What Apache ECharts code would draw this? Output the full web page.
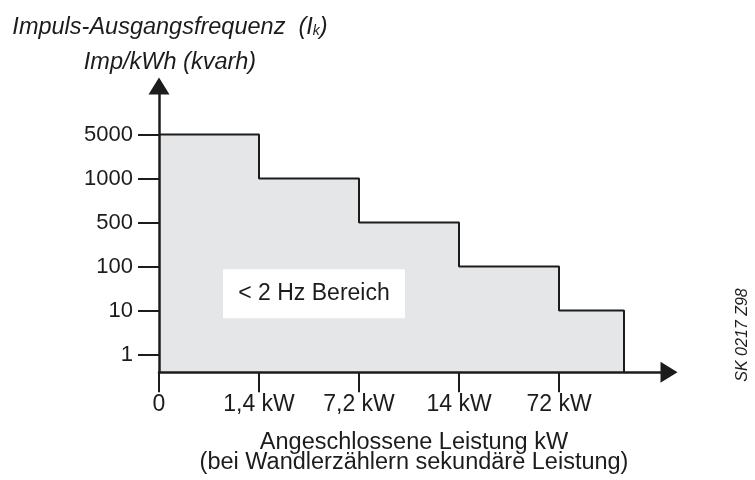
<!DOCTYPE html>
<html><head><meta charset="utf-8">
<script src="https://cdn.jsdelivr.net/npm/echarts@6/dist/echarts.min.js"></script>
<style>html,body{margin:0;padding:0;background:#fff}#chart{width:755px;height:480px}</style>
</head><body><div id="chart"></div>
<script>
// y axis: ordinal levels of pulse output frequency (Imp/kWh)
const yTickLabels = ['1', '10', '100', '500', '1000', '5000'];
// x axis: connected power ranges
const xTickLabels = ['0', '1,4 kW', '7,2 kW', '14 kW', '72 kW'];
// level of each power range (Imp/kWh)
const stepLevels = [5000, 1000, 500, 100, 10];
// start / end of each power range in axis tick units
const rangeStarts = [0, 1, 2, 3, 4];
const rangeEnds = [1, 2, 3, 4, 4.65];
const areaLabel = '< 2 Hz Bereich';
const yTitle1 = 'Impuls-Ausgangsfrequenz  (I{s|k})';
const yTitle2 = 'Imp/kWh (kvarh)';
const xTitle = 'Angeschlossene Leistung kW\n(bei Wandlerzählern sekundäre Leistung)';
const sideNote = 'SK 0217 Z98';

const Y_MIN = 0.6, Y_MAX = 7.1, X_MAX = 5.1;
const ink = '#1c1c1c';
const FONT = '"Liberation Sans", Arial, Helvetica, sans-serif';

const levelIndex = v => yTickLabels.indexOf(String(v)) + 1;
const data = [];
stepLevels.forEach((lv, i) => data.push([rangeStarts[i], levelIndex(lv)]));
data.push([rangeEnds[rangeEnds.length - 1], levelIndex(stepLevels[stepLevels.length - 1])]);
data.push([rangeEnds[rangeEnds.length - 1], Y_MIN]);

const chart = echarts.init(document.getElementById('chart'), null, {renderer: 'canvas'});
chart.setOption({
  animation: false,
  backgroundColor: '#fff',
  grid: {left: 159, right: 86, top: 86, bottom: 105, containLabel: false},
  xAxis: {
    type: 'value', min: 0, max: X_MAX, interval: 1, z: 5,
    splitLine: {show: false},
    axisLine: {onZero: false, lineStyle: {color: ink, width: 2.5}, symbol: ['none', 'triangle'], symbolSize: [21, 17]},
    axisTick: {customValues: [0, 1, 2, 3, 4], length: 20, lineStyle: {color: ink, width: 2}},
    axisLabel: {customValues: [0, 1, 2, 3, 4], margin: 21, color: ink, fontSize: 23, fontFamily: FONT,
      formatter: v => xTickLabels[Math.round(v)] || ''},
    name: xTitle, nameLocation: 'middle', nameGap: 60,
    nameTextStyle: {color: ink, fontSize: 23.5, fontFamily: FONT, lineHeight: 20.5}
  },
  yAxis: {
    type: 'value', min: Y_MIN, max: Y_MAX, z: 5,
    splitLine: {show: false},
    axisLine: {onZero: false, lineStyle: {color: ink, width: 2.5}, symbol: ['none', 'triangle'], symbolSize: [21, 17]},
    axisTick: {customValues: [1, 2, 3, 4, 5, 6], length: 21, lineStyle: {color: ink, width: 2}},
    axisLabel: {customValues: [1, 2, 3, 4, 5, 6], margin: 26, color: ink, fontSize: 22, fontFamily: FONT,
      formatter: v => yTickLabels[Math.round(v) - 1] || ''}
  },
  series: [{
    type: 'line', step: 'end', data: data, symbol: 'none', z: 2,
    lineStyle: {color: ink, width: 2},
    areaStyle: {color: '#e5e6e8', opacity: 1},
    markPoint: {
      symbol: 'rect', symbolSize: [182, 49], silent: true, animation: false,
      itemStyle: {color: '#ffffff'},
      label: {show: true, position: 'inside', color: ink, fontSize: 23, fontFamily: FONT, formatter: areaLabel},
      data: [{coord: [1.55, 2.38]}]
    }
  }],
  graphic: [
    {type: 'text', x: 170, y: 27, style: {text: yTitle1, align: 'center', verticalAlign: 'middle',
      font: 'italic 23.5px ' + FONT, fill: ink,
      rich: {s: {fontSize: 14, fontStyle: 'italic', fontFamily: FONT, verticalAlign: 'bottom', fill: ink}}}},
    {type: 'text', x: 170, y: 62, style: {text: yTitle2, align: 'center', verticalAlign: 'middle',
      font: 'italic 23.5px ' + FONT, fill: ink}},
    {type: 'text', x: 743, y: 335, rotation: Math.PI / 2, style: {text: sideNote, align: 'center', verticalAlign: 'middle',
      font: 'italic 16px ' + FONT, fill: ink}}
  ]
});
</script>
</body></html>
